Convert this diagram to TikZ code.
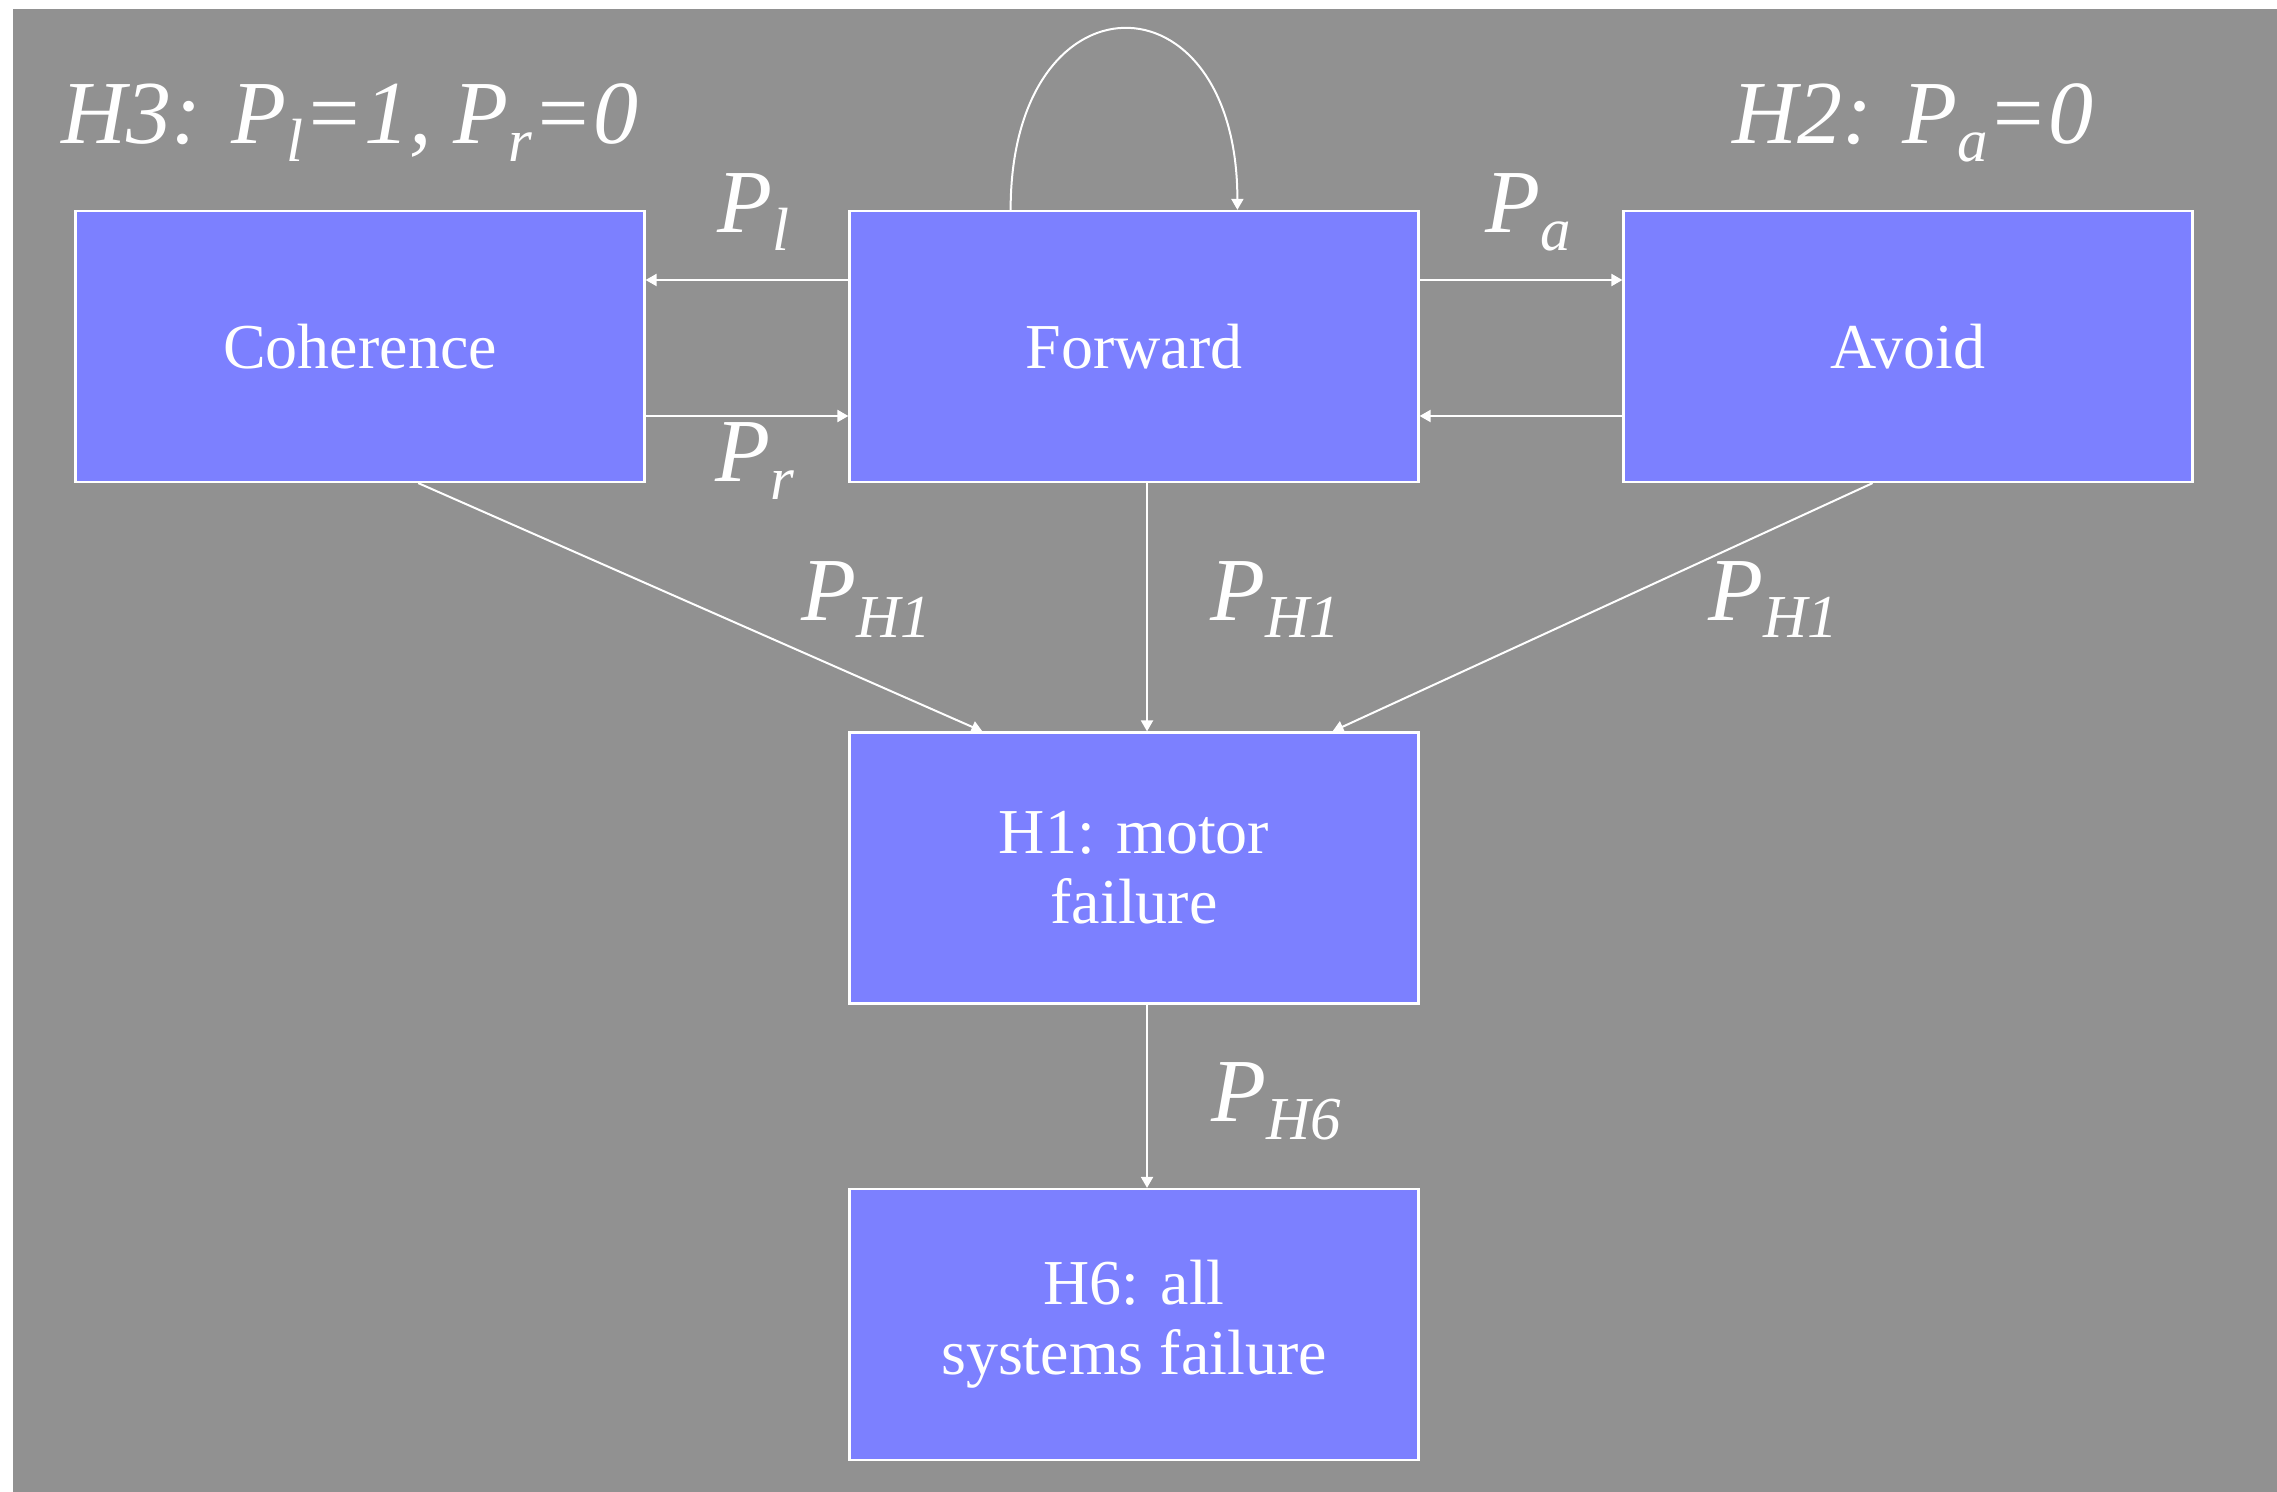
\documentclass[tikz,border=0pt]{standalone}
\usepackage{fontspec}
\setmainfont{Liberation Serif}
\usetikzlibrary{arrows.meta,calc}
\definecolor{slidegray}{RGB}{145,145,145}
\definecolor{stateblue}{RGB}{124,128,255}
% lowered, smaller index letter for the probability labels
\newcommand\lowsub[1]{\raisebox{-0.2em}{\fontsize{30.5pt}{30.5pt}\selectfont #1}}

\begin{document}
\begin{tikzpicture}[x=0.5pt,y=-0.5pt,
  state/.style={draw=white,line width=1.1pt,fill=stateblue,text=white,
    minimum width=284.5pt,minimum height=135.5pt,inner sep=0pt,align=center,
    font=\fontsize{32pt}{35pt}\selectfont},
  prob/.style={text=white,anchor=base west,inner sep=0pt,
    font=\fontsize{45pt}{50pt}\selectfont\itshape},
  flow/.style={draw=white,line width=1pt,-{Triangle[length=5.5pt,width=6pt]}}]

% page and slide background
\fill[white] (0,0) rectangle (2277,1492);
\fill[slidegray] (13,9) rectangle (2277,1492);
\useasboundingbox (0,0) rectangle (2277,1492);

% states
\node[state] (coh) at (360,346.5) {Coherence};
\node[state] (fwd) at (1134,346.5) {Forward};
\node[state] (avd) at (1908,346.5) {Avoid};
\node[state] (h1)  at (1134,868) {H1: motor\\failure};
\node[state] (h6)  at (1134,1324.5) {H6: all\\systems failure};

% heights of the paired horizontal transitions
\coordinate (rowA) at (0,280);
\coordinate (rowB) at (0,416);

% transitions between the behaviours
\draw[flow] (fwd.west |- rowA) -- (coh.east |- rowA);
\draw[flow] (coh.east |- rowB) -- (fwd.west |- rowB);
\draw[flow] (fwd.east |- rowA) -- (avd.west |- rowA);
\draw[flow] (avd.west |- rowB) -- (fwd.east |- rowB);

% self loop on Forward
\coordinate (loopA) at ($(fwd.north west)!0.284!(fwd.north east)$);
\coordinate (loopB) at ($(fwd.north west)!0.681!(fwd.north east)$);
\draw[flow] (loopA) .. controls +(0,-241) and +(0,-241) .. (loopB);

% transitions into motor failure
\draw[flow] ($(coh.south west)!0.602!(coh.south east)$) -- ($(h1.north west)!0.2346!(h1.north east)$);
\draw[flow] ($(fwd.south west)!0.5228!(fwd.south east)$) -- ($(h1.north west)!0.5228!(h1.north east)$);
\draw[flow] ($(avd.south west)!0.438!(avd.south east)$) -- ($(h1.north west)!0.8475!(h1.north east)$);
\draw[flow] ($(h1.south west)!0.5228!(h1.south east)$) -- ($(h6.north west)!0.5228!(h6.north east)$);

% probability labels
\node[prob] (lh3) at (61,144) {H3: P\lowsub{l}=1, P\lowsub{r}=0};
\node[prob] (lh2) at (1732,144) {H2: P\lowsub{a}=0};
\node[prob] (lpl) at (717,233) {P\lowsub{l}};
\node[prob] (lpr) at (715,482) {P\lowsub{r}};
\node[prob] (lpa) at (1485,233) {P\lowsub{a}};
\node[prob] (lc1) at (801,620) {P\lowsub{H1}};
\node[prob] (lf1) at (1210,620) {P\lowsub{H1}};
\node[prob] (la1) at (1708,620) {P\lowsub{H1}};
\node[prob] (lh6) at (1211,1121) {P\lowsub{H6}};
\end{tikzpicture}
\end{document}
